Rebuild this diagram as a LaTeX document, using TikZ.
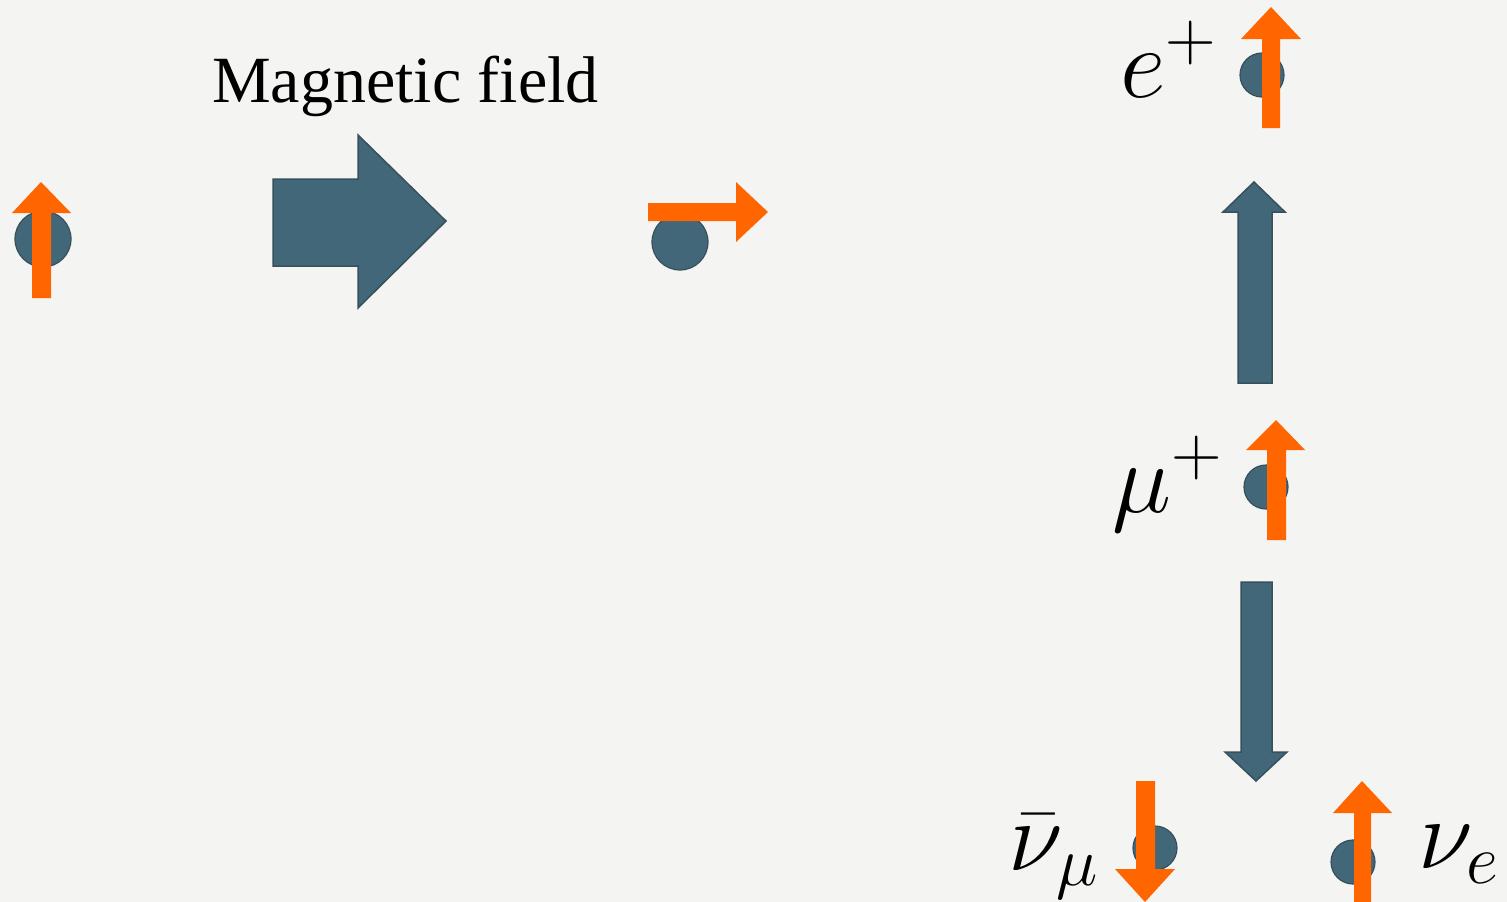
\RequirePackage{fix-cm}
\documentclass[tikz,border=0pt]{standalone}
\usepackage{fontspec}
\newfontfamily\magfont{Liberation Serif}
\definecolor{bgc}{RGB}{244,244,243}
\definecolor{slate}{RGB}{66,103,120}
\definecolor{slateedge}{RGB}{55,80,92}
\definecolor{spinor}{RGB}{255,102,0}
\tikzset{
  particle/.style={circle, fill=slate, draw=slateedge, line width=1.2pt, inner sep=0pt, minimum size=#1},
  spinarrow/.style={fill=spinor, draw=none},
  fieldarrow/.style={fill=slate, draw=slateedge, line width=1.5pt, line join=miter},
  mathlbl/.style={anchor=base west, inner sep=0pt, font=\fontsize{100}{100}\selectfont},
}
\begin{document}
\begin{tikzpicture}[x=1pt,y=-1pt]
\fill[bgc] (0,0) rectangle (1507,902);
\useasboundingbox (0,0) rectangle (1507,902);

% left particle with spin up
\node[particle=56pt] (p1) at (43,239) {};
\fill[spinarrow] (32,298) -- (51,298) -- (51,213) -- (71,213) -- (41,182) -- (12,213) -- (32,213) -- cycle;

% magnetic field
\node[anchor=base west, inner sep=0pt, font=\magfont\fontsize{66}{66}\selectfont] (mag) at (212,102) {Magnetic field};
\filldraw[fieldarrow] (273,179) -- (358,179) -- (358,135) -- (446,221) -- (358,308) -- (358,266) -- (273,266) -- cycle;

% rotated spin
\node[particle=56pt] (p2) at (680,242) {};
\fill[spinarrow] (648,203) -- (736,203) -- (736,182) -- (768,212) -- (736,242) -- (736,221) -- (648,221) -- cycle;

% positron
\node[mathlbl] (elbl) at (1120,97) {$e^+$};
\node[particle=44pt] (pe) at (1262,75) {};
\fill[spinarrow] (1262,128) -- (1280,128) -- (1280,39) -- (1301,39) -- (1271,7) -- (1241,39) -- (1262,39) -- cycle;

% upward momentum arrow
\filldraw[fieldarrow] (1238,383) -- (1272,383) -- (1272,212) -- (1285,212) -- (1254,182) -- (1223,212) -- (1238,212) -- cycle;

% muon
\node[mathlbl] (mulbl) at (1112,512) {$\mu^+$};
\node[particle=44pt] (pmu) at (1266,487) {};
\fill[spinarrow] (1267,540) -- (1286,540) -- (1286,450) -- (1305,450) -- (1276,420) -- (1246,450) -- (1267,450) -- cycle;

% downward arrow
\filldraw[fieldarrow] (1241,582) -- (1272,582) -- (1272,752) -- (1287,752) -- (1256,781) -- (1225,752) -- (1241,752) -- cycle;

% anti muon neutrino
\node[mathlbl] (nbl) at (1008,870) {$\bar{\nu}_\mu$};
\node[particle=44pt] (pnb) at (1155,848) {};
\fill[spinarrow] (1136,781) -- (1155,781) -- (1155,869) -- (1175,869) -- (1145,902) -- (1115,869) -- (1136,869) -- cycle;

% electron neutrino
\node[particle=44pt] (pne) at (1353,862) {};
\fill[spinarrow] (1354,902) -- (1371,902) -- (1371,813) -- (1392,813) -- (1362,781) -- (1333,813) -- (1354,813) -- cycle;
\node[mathlbl] (nel) at (1418,868) {$\nu_e$};
\end{tikzpicture}
\end{document}
